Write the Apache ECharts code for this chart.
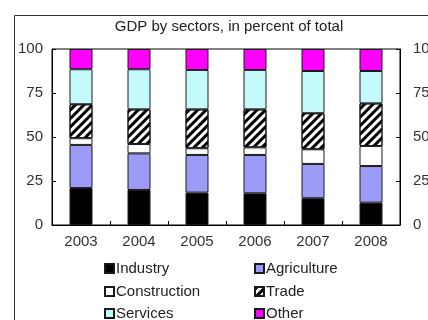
<!DOCTYPE html>
<html>
<head>
<meta charset="utf-8">
<script src="https://cdn.jsdelivr.net/npm/echarts@6/dist/echarts.min.js"></script>
<style>
  html, body { margin: 0; padding: 0; background: #fff; }
  #chart { width: 428px; height: 320px; }
</style>
</head>
<body>
<div id="chart"></div>
<script>
// Sector shares of GDP, percent of total, by year
var years = ['2003', '2004', '2005', '2006', '2007', '2008'];
var industry = [21.0, 19.9, 18.4, 18.0, 15.2, 12.7];
var agriculture = [24.5, 20.8, 21.4, 21.8, 19.5, 20.8];
var construction = [3.8, 5.3, 3.8, 4.3, 8.3, 11.4];
var trade = [19.3, 19.7, 22.1, 21.6, 20.5, 24.2];
var services = [19.9, 22.8, 22.4, 22.4, 24.0, 18.4];
var other = [11.5, 11.5, 11.9, 11.9, 12.5, 12.5];
var yTicks = [0, 25, 50, 75, 100];

var chart = echarts.init(document.getElementById('chart'), null, { renderer: 'canvas' });

var font = 'Arial, "Liberation Sans", sans-serif';
var edge = '#1a1a1a';

function seg(name, data, fill, extra) {
  var style = { color: fill, borderColor: edge, borderWidth: 1 };
  if (extra) { for (var k in extra) style[k] = extra[k]; }
  return {
    name: name, type: 'bar', stack: 'gdp', data: data,
    barWidth: 23, itemStyle: style, emphasis: { disabled: true }
  };
}

var hatch = {
  decal: {
    symbol: 'rect', symbolSize: 1,
    dashArrayX: [1, 0], dashArrayY: [3, 3],
    rotation: -Math.PI / 4,
    color: '#000'
  }
};

var axisY = function (pos, margin) {
  return {
    type: 'value', position: pos, min: 0, max: 100, interval: 25,
    axisLine: { show: true, lineStyle: { color: '#000' } },
    axisTick: { show: true, inside: true, length: 4, lineStyle: { color: '#000' } },
    splitLine: { show: false },
    axisLabel: {
      margin: margin, color: '#333', fontFamily: font, fontSize: 15,
      formatter: function (v) { return yTicks.indexOf(v) >= 0 ? String(v) : ''; }
    }
  };
};

// one legend entry per slot: two columns, three rows
function legendAt(name, x, y) {
  return {
    left: x, top: y, padding: 0,
    itemWidth: 9, itemHeight: 9, icon: 'rect',
    textStyle: { fontFamily: font, fontSize: 15, color: '#222', padding: [0, 0, 0, -3] },
    data: [name]
  };
}

chart.setOption({
  animation: false,
  backgroundColor: '#fff',
  title: {
    text: 'GDP by sectors, in percent of total',
    left: 229, top: 19, textAlign: 'center', padding: 0,
    textStyle: { fontFamily: font, fontSize: 15, fontWeight: 'normal', color: '#222' }
  },
  graphic: [{
    type: 'rect', left: 12, top: 13, silent: true,
    shape: { width: 440, height: 330 },
    style: { fill: 'none', stroke: '#333', lineWidth: 1 }
  }],
  grid: {
    left: 52, right: 28, top: 49, bottom: 95,
    containLabel: false, outerBoundsMode: 'none',
    show: true, borderColor: '#000', borderWidth: 1, backgroundColor: '#fff'
  },
  xAxis: {
    type: 'category', data: years,
    axisLine: { lineStyle: { color: '#000' } },
    axisTick: { show: true, inside: true, length: 4, lineStyle: { color: '#000' } },
    axisLabel: { margin: 9, color: '#333', fontFamily: font, fontSize: 15 }
  },
  yAxis: [axisY('left', 9), axisY('right', 13)],
  legend: [
    legendAt('Industry', 104, 261),
    legendAt('Construction', 104, 284),
    legendAt('Services', 104, 306),
    legendAt('Agriculture', 254, 261),
    legendAt('Trade', 254, 284),
    legendAt('Other', 254, 306)
  ],
  series: [
    seg('Industry', industry, '#000000'),
    seg('Agriculture', agriculture, '#9c9cf8'),
    seg('Construction', construction, '#ffffff'),
    seg('Trade', trade, '#ffffff', hatch),
    seg('Services', services, '#c4fafa'),
    seg('Other', other, '#ff00ff')
  ]
});
</script>
</body>
</html>
